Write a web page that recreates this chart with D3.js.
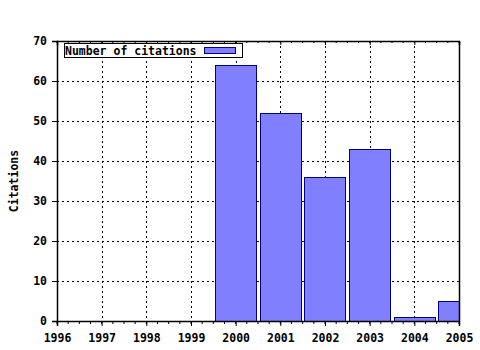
<!DOCTYPE html>
<html>
<head>
<meta charset="utf-8">
<script src="https://cdn.jsdelivr.net/npm/d3@7"></script>
<style>
  body { margin: 0; background: #fff; }
  text { font-family: "DejaVu Sans Mono", monospace; font-weight: bold; font-size: 11.5px; fill: #000; }
</style>
</head>
<body>
<svg id="chart" width="480" height="350"></svg>
<script>
const years = [1996, 1997, 1998, 1999, 2000, 2001, 2002, 2003, 2004, 2005]
const citations = [0, 0, 0, 0, 64, 52, 36, 43, 1, 5]
const yTicks = [0, 10, 20, 30, 40, 50, 60, 70]
const seriesName = 'Number of citations'
const yTitle = 'Citations'

const svg = d3.select('#chart')
const mLeft = 57, mRight = 459, mTop = 41, mBottom = 321

const x = d3.scaleLinear().domain([1996, 2005]).range([mLeft, mRight])
const y = d3.scaleLinear().domain([0, 70]).range([mBottom, mTop])
const step = x(1997) - x(1996)
const barW = step * 0.92

svg.append('defs').append('clipPath').attr('id', 'plot')
  .append('rect').attr('x', mLeft).attr('y', mTop).attr('width', mRight - mLeft).attr('height', mBottom - mTop)

// grid
const grid = svg.append('g').attr('shape-rendering', 'crispEdges')
  .attr('stroke', '#000').attr('stroke-dasharray', '2,3')
grid.selectAll('.vg').data(years.slice(1, -1)).enter().append('line')
  .attr('x1', d => Math.round(x(d)) + 0.5).attr('x2', d => Math.round(x(d)) + 0.5)
  .attr('y1', mTop).attr('y2', mBottom)
grid.selectAll('.hg').data(yTicks.slice(1, -1)).enter().append('line')
  .attr('x1', mLeft).attr('x2', mRight)
  .attr('y1', d => Math.round(y(d)) + 0.5).attr('y2', d => Math.round(y(d)) + 0.5)

// bars
svg.append('g').attr('clip-path', 'url(#plot)').attr('shape-rendering', 'crispEdges')
  .selectAll('rect').data(years.map((yr, i) => ({ yr, v: citations[i] })).filter(d => d.v > 0))
  .enter().append('rect')
  .attr('x', d => Math.round(x(d.yr) - barW / 2) + 0.5)
  .attr('y', d => Math.round(y(d.v)) + 0.5)
  .attr('width', Math.round(barW))
  .attr('height', d => Math.round(y(0) - y(d.v)))
  .attr('fill', '#8080ff').attr('stroke', '#000080')

// axes
const minor = d3.range(1996, 2005.01, 0.25)
const axB = svg.append('g').attr('transform', `translate(0,${mBottom})`)
  .call(d3.axisBottom(x).tickValues(years).tickFormat(d3.format('d')).tickSize(5).tickPadding(8))
axB.selectAll('.minor').data(minor).enter().append('line')
  .attr('x1', d => x(d)).attr('x2', d => x(d)).attr('y1', 0).attr('y2', 3).attr('stroke', '#000')

const axT = svg.append('g').attr('transform', `translate(0,${mTop})`)
  .call(d3.axisTop(x).tickValues(years).tickFormat('').tickSize(-4))
axT.selectAll('.minor').data(minor).enter().append('line')
  .attr('x1', d => x(d)).attr('x2', d => x(d)).attr('y1', 0).attr('y2', 2).attr('stroke', '#000')

svg.append('g').attr('transform', `translate(${mLeft},0)`)
  .call(d3.axisLeft(y).tickValues(yTicks).tickSize(5).tickPadding(5))
svg.append('g').attr('transform', `translate(${mRight},0)`)
  .call(d3.axisRight(y).tickValues([]).tickSize(0))

svg.selectAll('.domain').attr('stroke', '#000').attr('stroke-width', 1.5)
svg.selectAll('.tick line').attr('stroke', '#000')
svg.selectAll('.tick text').attr('font-family', '"DejaVu Sans Mono", monospace')
  .attr('font-weight', 'bold').attr('font-size', 11.5).attr('fill', '#000')

// y title
svg.append('text').attr('transform', `translate(18,${(mTop + mBottom) / 2}) rotate(-90)`)
  .attr('text-anchor', 'middle').text(yTitle)

// legend
const lg = svg.append('g').attr('shape-rendering', 'crispEdges')
lg.append('rect').attr('x', 64.5).attr('y', 43.5).attr('width', 178).attr('height', 14)
  .attr('fill', '#fff').attr('stroke', '#000').attr('stroke-width', 1.5)
lg.append('text').attr('x', 65).attr('y', 54.5).text(seriesName)
lg.append('rect').attr('x', 204.5).attr('y', 47.5).attr('width', 31).attr('height', 6)
  .attr('fill', '#8080ff').attr('stroke', '#000080')
</script>
</body>
</html>
